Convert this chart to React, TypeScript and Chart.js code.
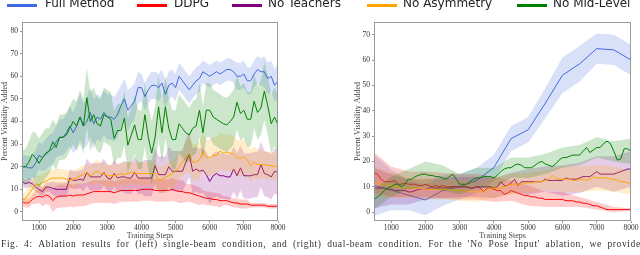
import React, { useEffect, useRef } from 'react';
import { Chart, registerables } from 'chart.js';

Chart.register(...registerables);

// ---------- shared ----------
const SERIES_NAMES = ['Full Method', 'DDPG', 'No Teachers', 'No Asymmetry', 'No Mid-Level'];
const SERIES_RGB = ['65,105,225', '255,0,0', '128,0,128', '255,165,0', '0,128,0'];
const X_TICKS = [1000, 2000, 3000, 4000, 5000, 6000, 7000, 8000];
const LEFT_Y_TICKS = [0, 10, 20, 30, 40, 50, 60, 70, 80];
const RIGHT_Y_TICKS = [0, 10, 20, 30, 40, 50, 60, 70];
const CAPTION = "Fig. 4: Ablation results for (left) single-beam condition, and (right) dual-beam condition. For the 'No Pose Input' ablation, we provide";

// sample grid of training steps (every 100 steps, 500..8000)
const STEPS_100 = Array.from({ length: 76 }, (_, i) => 500 + 100 * i);
const STEPS_500 = [500, 1000, 1500, 2000, 2500, 3000, 3500, 4000, 4500, 5000, 5500, 6000, 6500, 7000, 7500, 8000];

// ---------- left panel (single-beam) ----------
const L_FULL = [20, 20, 19.5, 19.5, 21.5, 25,
  24, 25.5, 27, 28, 31, 33, 33, 35, 38, 35,
  38, 42, 38, 40, 44, 39, 42, 41, 44, 42,
  42, 41, 43, 47, 50, 45, 47, 49, 55, 55,
  51, 54, 56, 56, 55, 57, 52, 56, 57, 55,
  60, 58, 56, 54, 56, 58, 59, 62, 61, 60,
  61, 62, 61, 62, 63, 63, 62, 60, 60, 61,
  58, 58, 61, 63, 62, 62, 59, 60, 56, 58];
const L_DDPG = [4.5, 4, 4, 5.5, 6.5, 7,
  6.5, 7.5, 7, 5, 6.5, 7, 7, 7, 7.5, 7,
  7.5, 7.5, 7.5, 8, 8.5, 9, 9, 9, 9, 9,
  9, 8.5, 9, 9.5, 9.5, 9.5, 9.5, 9.5, 9.5, 10,
  10, 10, 10, 9.5, 9.5, 9.5, 9.5, 9.5, 10, 9.5,
  9, 9, 8.5, 8.5, 8, 7.5, 7, 6.5, 6, 6,
  5.5, 5.5, 5, 5, 5, 4.5, 4, 4, 3.5, 3.5,
  3.5, 3, 3, 3, 3, 3, 2.5, 2.5, 2.5, 2.5];
const L_NOTEACH = [13.5, 12.5, 13, 12.5, 11, 10,
  9, 11, 11, 10.5, 10, 10, 10, 10, 15, 14,
  14, 14.5, 14, 17.5, 15.5, 15.5, 15.5, 15.5, 17.5, 15,
  14.5, 17, 15, 15.5, 15.5, 15, 15, 17.5, 15, 15,
  15, 15, 15, 20.5, 16.5, 16.5, 16.5, 20, 18, 18,
  18, 18, 22, 25.5, 18, 19, 18, 18.5, 16.5, 13.5,
  16, 17, 16, 16, 15.5, 15.5, 19, 16, 19.5, 16,
  16, 16, 16.5, 16.5, 21, 17, 16.5, 15.5, 18, 17.5];
const L_NOASYM = [5, 6, 8, 10, 12, 12,
  13, 13.5, 14.5, 15, 15, 15, 15, 14.5, 14, 14.5,
  15, 16, 16.5, 17.5, 16, 17, 18, 17, 17, 16,
  16, 16, 16.5, 17, 16.5, 17, 17.5, 17, 17, 17,
  17, 17, 17, 17, 14, 14.5, 15.5, 16, 17, 18,
  20, 22, 24, 25.5, 22, 22, 23, 27, 24, 24,
  25, 25, 27, 26, 26.5, 26, 25.5, 24, 23.5, 24.5,
  23, 20.5, 22, 21, 21, 21, 20.5, 20.5, 20, 20.5];
const L_NOMID = [20, 20, 22, 25.5, 24, 21.5,
  24, 26, 27, 31, 28.5, 33, 33, 34, 37, 40,
  38, 42, 38, 50.5, 40, 43, 39, 38, 43, 42,
  41, 32.5, 36, 36, 41.5, 29.5, 34, 38.5, 32, 32,
  43, 33, 26, 33, 46.5, 35, 46.5, 37, 32, 32,
  39, 37, 35, 34, 37, 38, 45, 35, 45, 45,
  42, 41, 40, 39, 38.5, 40, 42, 48.5, 43.5, 45,
  41, 41, 49, 44, 46, 53.5, 47, 39, 42, 38.5];

// half-width of the shaded band, same grid
const L_FULL_SPREAD = [5, 5, 5, 5, 6, 6, 6, 7, 7, 7, 7, 8, 8, 8, 9, 9, 10, 10, 10, 11, 11, 11, 10, 10, 10, 10,
  10, 10, 10, 9, 9, 9, 8, 8, 7, 6, 6, 6, 6, 6, 6, 6, 6, 6, 6, 6, 6, 6, 6, 6, 6, 6, 6, 5, 5, 5,
  5, 5, 5, 5, 5, 5, 5, 6, 6, 6, 6, 6, 6, 6, 6, 7, 7, 7, 7, 8];
const L_DDPG_SPREAD = [2, 2, 2, 2, 3, 3, 4, 4, 4, 5, 5, 5, 5, 5, 5, 5, 5, 5, 5, 5, 5, 5, 5, 5, 5, 5,
  5, 5, 5, 5, 5, 5, 5, 5, 5, 5, 5, 5, 5, 5, 5, 5, 5, 5, 5, 5, 5, 5, 4, 4, 4, 4, 4, 3, 3, 3,
  3, 3, 3, 2, 2, 2, 2, 2, 2, 2, 2, 1, 1, 1, 1, 1, 1, 1, 1, 1];
const L_NOTEACH_SPREAD = [2, 2, 2, 2, 2, 2, 2, 2, 2, 3, 3, 3, 3, 3, 4, 4, 4, 4, 5, 6, 6, 6, 6, 6, 6, 6,
  6, 6, 6, 6, 7, 7, 7, 7, 7, 7, 8, 8, 8, 8, 8, 8, 8, 9, 9, 9, 9, 9, 10, 10, 10, 10, 10, 10, 10, 10,
  10, 10, 10, 10, 10, 10, 10, 10, 10, 10, 10, 10, 10, 10, 10, 10, 10, 10, 10, 10];
const L_NOASYM_SPREAD = [2, 3, 4, 4, 4, 4, 4, 4, 4, 4, 4, 4, 4, 4, 4, 4, 4, 4, 4, 4, 4, 5, 5, 5, 5, 5,
  5, 5, 5, 5, 5, 5, 5, 5, 5, 5, 5, 5, 5, 6, 6, 6, 6, 6, 6, 6, 6, 6, 7, 8, 8, 8, 8, 8, 8, 8,
  8, 8, 8, 8, 8, 8, 8, 8, 8, 8, 7, 7, 7, 7, 6, 6, 6, 6, 6, 6];
const L_NOMID_SPREAD = [7, 8, 9, 10, 11, 11, 11, 11, 10, 10, 10, 10, 10, 10, 10, 10, 11, 12, 12, 13, 13, 12, 12, 12, 12, 12,
  12, 12, 12, 12, 12, 12, 12, 13, 13, 13, 14, 14, 14, 14, 14, 14, 14, 14, 13, 13, 13, 13, 13, 12, 12, 12, 12, 12, 12, 12,
  12, 12, 12, 12, 12, 12, 12, 12, 12, 12, 12, 12, 12, 12, 12, 13, 13, 13, 13, 13];

// ---------- right panel (dual-beam) ----------
const R_FULL = [10.5, 8.7, 6.7, 4.8, 8.5, 10, 12.5, 17.6, 29, 32.5, 43, 54, 58.5, 64.5, 64, 60]; // on STEPS_500
const R_DDPG = [15.5, 15, 13, 12, 12, 12,
  12.5, 11, 11, 11.5, 11, 11, 11, 10.5, 10.5, 11,
  10.5, 10, 10.5, 10, 10.5, 10, 10, 10, 10, 10,
  10, 10, 9.5, 9.5, 10, 9.5, 8, 9.5, 9.5, 9,
  8.5, 8.5, 7, 7.5, 8.5, 8, 7.5, 7, 6.5, 6.5,
  6, 6, 5.5, 5.5, 5, 5, 5, 5, 5, 5,
  4.5, 4.5, 4.5, 4, 4, 3.5, 3.5, 3, 2.5, 2.5,
  2, 1.5, 1, 1, 1, 1, 1, 1, 1, 1];
const R_NOTEACH = [9.5, 9.5, 9.5, 9.5, 9, 9,
  8.5, 8.5, 8.5, 8.5, 8, 8, 8.5, 9, 9, 9,
  9.5, 9.5, 9.5, 9.5, 9.5, 9.5, 9.5, 10, 10, 10,
  10, 10, 9.5, 9.5, 10, 10, 10, 10, 10, 9.5,
  10, 12, 10.5, 10.5, 11.5, 13, 10.5, 12, 12, 12,
  12, 12, 12, 12, 13, 12.5, 12.5, 12.5, 12.5, 12.5,
  13.5, 13, 13, 13, 13.5, 14, 14, 14, 15, 16,
  15, 15, 15, 15, 15, 15.5, 16, 16.5, 17, 17];
const R_NOASYM = [12, 11.5, 11, 11, 11, 10.5,
  10, 10, 10, 9.5, 9.5, 9.5, 9.5, 9.5, 9, 9,
  9, 9, 9, 9, 9, 9, 9, 8.5, 8.5, 8.5,
  8.5, 8.5, 8, 8, 8, 8, 8, 9, 9.5, 9.5,
  9.5, 9.5, 10, 10.5, 11, 11, 11, 11, 11.5, 11.5,
  11.5, 12, 12, 12, 12.5, 13, 14.5, 13.5, 13, 13,
  13, 13, 12.5, 12.5, 13, 13, 12.5, 13, 14, 13.5,
  13.5, 13.5, 13.5, 13, 13, 12.5, 12, 12, 11.5, 11.5];
const R_NOMID = [5, 6, 7, 8.5, 9.5, 10,
  11, 11, 10, 11, 13, 13, 14, 14.5, 15, 15,
  14.5, 14.5, 14, 14, 13.5, 13, 14, 15, 13, 11,
  11, 11, 12, 13, 13.5, 13.5, 14, 14, 14, 13.5,
  14.5, 16, 17, 17.5, 17.5, 18.5, 19, 18.5, 17.5, 17.5,
  17.5, 18.5, 19.5, 20, 19, 18.5, 18, 19, 20.5, 21.5,
  21.5, 22, 22.5, 22.5, 22.5, 24, 25.5, 23.5, 24.5, 25.5,
  25.5, 27, 28, 27, 24, 20.5, 21, 25, 25, 24];

// band half-widths on STEPS_500
const R_FULL_SPREAD = [12, 8, 6, 6, 6, 5, 5, 5, 5, 5, 6, 7, 7, 6, 6, 6];
const R_DDPG_SPREAD = [8, 6, 5, 5, 5, 5, 5, 5, 4, 4, 3, 3, 2, 1.5, 1, 0.5];
const R_NOTEACH_SPREAD = [8, 6, 5, 4, 4, 4, 4, 4, 4, 5, 5, 6, 6, 6, 7, 7];
const R_NOASYM_SPREAD = [6, 5, 4, 4, 4, 4, 4, 4, 4, 4, 4, 5, 5, 5, 5, 4.5];
const R_NOMID_SPREAD = [4, 4, 4, 5, 5, 4, 4, 4, 4, 4, 4, 4, 4, 4, 4, 5];

type Series = {
  xs: number[];
  ys: number[];
  bandXs: number[];
  spread: number[];
};

const LEFT_SERIES: Series[] = [
  { xs: STEPS_100, ys: L_FULL, bandXs: STEPS_100, spread: L_FULL_SPREAD },
  { xs: STEPS_100, ys: L_DDPG, bandXs: STEPS_100, spread: L_DDPG_SPREAD },
  { xs: STEPS_100, ys: L_NOTEACH, bandXs: STEPS_100, spread: L_NOTEACH_SPREAD },
  { xs: STEPS_100, ys: L_NOASYM, bandXs: STEPS_100, spread: L_NOASYM_SPREAD },
  { xs: STEPS_100, ys: L_NOMID, bandXs: STEPS_100, spread: L_NOMID_SPREAD },
];
const RIGHT_SERIES: Series[] = [
  { xs: STEPS_500, ys: R_FULL, bandXs: STEPS_500, spread: R_FULL_SPREAD },
  { xs: STEPS_100, ys: R_DDPG, bandXs: STEPS_500, spread: R_DDPG_SPREAD },
  { xs: STEPS_100, ys: R_NOTEACH, bandXs: STEPS_500, spread: R_NOTEACH_SPREAD },
  { xs: STEPS_100, ys: R_NOASYM, bandXs: STEPS_500, spread: R_NOASYM_SPREAD },
  { xs: STEPS_100, ys: R_NOMID, bandXs: STEPS_500, spread: R_NOMID_SPREAD },
];

function buildDatasets(series: Series[]) {
  const out: any[] = [];
  // later series drawn on top: Chart.js draws lower index last, so reverse
  for (let k = series.length - 1; k >= 0; k--) {
    const s = series[k];
    const rgb = SERIES_RGB[k];
    const center = s.bandXs.map((x) => s.ys[s.xs.indexOf(x)]);
    out.push({
      label: SERIES_NAMES[k],
      data: s.xs.map((x, i) => ({ x, y: s.ys[i] })),
      borderColor: `rgb(${rgb})`,
      borderWidth: 1,
      pointRadius: 0,
      tension: 0,
      fill: false,
    });
    out.push({
      label: SERIES_NAMES[k] + ' upper',
      data: s.bandXs.map((x, i) => ({ x, y: center[i] + s.spread[i] })),
      borderWidth: 0,
      borderColor: 'rgba(0,0,0,0)',
      backgroundColor: `rgba(${rgb},0.2)`,
      pointRadius: 0,
      tension: 0,
      fill: '+1',
    });
    out.push({
      label: SERIES_NAMES[k] + ' lower',
      data: s.bandXs.map((x, i) => ({ x, y: center[i] - s.spread[i] })),
      borderWidth: 0,
      borderColor: 'rgba(0,0,0,0)',
      pointRadius: 0,
      tension: 0,
      fill: false,
    });
  }
  return out;
}

const framePlugin = {
  id: 'frame',
  afterDatasetsDraw(chart: any) {
    const { ctx, chartArea: a } = chart;
    ctx.save();
    ctx.strokeStyle = '#9a9a9a';
    ctx.lineWidth = 1;
    const l = Math.round(a.left) + 0.5;
    const t = Math.round(a.top) + 0.5;
    const r = Math.round(a.right) - 0.5;
    const b = Math.round(a.bottom) - 0.5;
    ctx.strokeRect(l, t, r - l, b - t);
    ctx.restore();
  },
};

type PanelProps = {
  series: Series[];
  yMin: number;
  yMax: number;
  yTicks: number[];
  padLeft: number;
  yWidth: number;
  padRight: number;
  left: number;
  width: number;
};

function Panel(p: PanelProps) {
  const ref = useRef<HTMLCanvasElement | null>(null);
  useEffect(() => {
    if (!ref.current) return;
    const serif = "'Liberation Serif', 'DejaVu Serif', serif";
    const chart = new Chart(ref.current, {
      type: 'line',
      data: { datasets: buildDatasets(p.series) },
      plugins: [framePlugin],
      options: {
        animation: false,
        responsive: false,
        maintainAspectRatio: false,
        events: [],
        layout: { padding: { left: p.padLeft, right: p.padRight, top: 22, bottom: 14 } },
        plugins: { legend: { display: false }, tooltip: { enabled: false } },
        scales: {
          x: {
            type: 'linear',
            min: 500,
            max: 8000,
            afterFit: (s: any) => { s.height = 20; },
            afterBuildTicks: (s: any) => { s.ticks = X_TICKS.map((v) => ({ value: v })); },
            grid: { display: true, drawOnChartArea: false, drawTicks: true, tickLength: 2, color: '#999' },
            border: { display: false },
            ticks: {
              autoSkip: false,
              maxRotation: 0,
              padding: 1,
              color: '#333',
              font: { family: serif, size: 7.5 },
              callback: (v: any) => String(v),
            },
            title: {
              display: true,
              text: 'Training Steps',
              color: '#444',
              padding: { top: 0, bottom: 0 },
              font: { family: serif, size: 8 },
            },
          },
          y: {
            type: 'linear',
            min: p.yMin,
            max: p.yMax,
            afterFit: (s: any) => { s.width = p.yWidth; },
            afterBuildTicks: (s: any) => { s.ticks = p.yTicks.map((v) => ({ value: v })); },
            grid: { display: true, drawOnChartArea: false, drawTicks: true, tickLength: 2, color: '#999' },
            border: { display: false },
            ticks: {
              autoSkip: false,
              padding: 2,
              color: '#333',
              font: { family: serif, size: 7.5 },
              callback: (v: any) => String(v),
            },
            title: {
              display: true,
              text: 'Percent Visibility Added',
              color: '#444',
              padding: { top: 0, bottom: 0 },
              font: { family: serif, size: 8 },
            },
          },
        },
      } as any,
    });
    return () => chart.destroy();
  }, []);
  return (
    <canvas
      ref={ref}
      width={p.width}
      height={255}
      style={{ position: 'absolute', left: p.left, top: 0, width: p.width, height: 255 }}
    />
  );
}

const LEGEND_POS = [
  { line: 7, text: 45 },
  { line: 137, text: 174 },
  { line: 232, text: 268 },
  { line: 367, text: 403 },
  { line: 517, text: 553 },
];

export default function App() {
  const words = CAPTION.split(' ');
  return (
    <div style={{ position: 'fixed', left: 0, top: 0, width: 640, height: 255, overflow: 'hidden', background: '#fff' }}>
      <Panel series={LEFT_SERIES} yMin={-4} yMax={84} yTicks={LEFT_Y_TICKS}
        padLeft={0} yWidth={22} padRight={42} left={0} width={320} />
      <Panel series={RIGHT_SERIES} yMin={-3.5} yMax={75} yTicks={RIGHT_Y_TICKS}
        padLeft={33} yWidth={21} padRight={29} left={320} width={340} />
      {SERIES_NAMES.map((name, i) => (
        <React.Fragment key={name}>
          <div style={{ position: 'absolute', left: LEGEND_POS[i].line, top: 3.5, width: 30, height: 3, background: `rgb(${SERIES_RGB[i]})` }} />
          <div style={{ position: 'absolute', left: LEGEND_POS[i].text, top: -5, fontFamily: "'DejaVu Sans', sans-serif", fontSize: 12, lineHeight: '17px', color: '#222', whiteSpace: 'nowrap' }}>{name}</div>
        </React.Fragment>
      ))}
      <div style={{ position: 'absolute', left: 1, top: 239, width: 640, display: 'flex', justifyContent: 'space-between', fontFamily: "'Liberation Serif', serif", fontSize: 9.5, lineHeight: '11px', color: '#333', letterSpacing: '0.6px', whiteSpace: 'nowrap' }}>
        {words.map((w, i) => <span key={i}>{w}</span>)}
      </div>
    </div>
  );
}
